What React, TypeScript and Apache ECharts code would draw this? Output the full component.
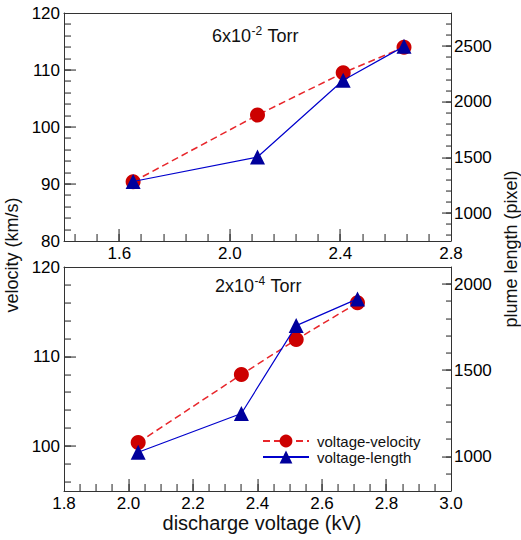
import React, { useEffect, useRef } from 'react';
import * as echarts from 'echarts';

// Upper panel: 6x10^-2 Torr
const voltageHigh = [1.65, 2.10, 2.41, 2.63];
const velocityHigh = [90.4, 102.1, 109.5, 114.0];
const lengthHigh = [1285, 1505, 2195, 2500];

// Lower panel: 2x10^-4 Torr
const voltageLow = [2.03, 2.35, 2.52, 2.71];
const velocityLow = [100.4, 108.0, 111.9, 116.0];
const lengthLow = [1025, 1250, 1760, 1915];

// Tick labels
const highVoltageLabels = [1.6, 2.0, 2.4, 2.8];
const highVelocityLabels = [80, 90, 100, 110, 120];
const highLengthLabels = [1000, 1500, 2000, 2500];
const lowVoltageLabels = [1.8, 2.0, 2.2, 2.4, 2.6, 2.8, 3.0];
const lowVelocityLabels = [100, 110, 120];
const lowLengthLabels = [1000, 1500, 2000];

// Axis extents
const HIGH_X = [1.4, 2.8];
const HIGH_L = [80, 120];
const HIGH_R = [750, 2800];
const LOW_X = [1.8, 3.0];
const LOW_L = [95, 120];
const LOW_R = [800, 2100];

const FONT = '"Liberation Sans", Arial, Helvetica, sans-serif';
const AXIS_COLOR = '#333';

function zip(xs: number[], ys: number[]): number[][] {
  return xs.map((x, i) => [x, ys[i]]);
}

// tick positions from `from` to `to` every `step`
function ticks(from: number, to: number, step: number): number[] {
  const n = Math.round((to - from) / step);
  const out: number[] = [];
  for (let i = 0; i <= n; i++) out.push(+(from + i * step).toFixed(4));
  return out;
}

type TickSet = { panel: number; edge: 'bottom' | 'left' | 'right'; values: number[]; len: number };
const tickSets: TickSet[] = [
  { panel: 0, edge: 'bottom', values: ticks(1.6, 2.4, 0.4), len: 12 },
  { panel: 0, edge: 'bottom', values: ticks(1.44, 2.72, 0.08), len: 7 },
  { panel: 0, edge: 'left', values: ticks(90, 110, 10), len: 12 },
  { panel: 0, edge: 'left', values: ticks(82, 118, 2), len: 7 },
  { panel: 0, edge: 'right', values: ticks(1000, 2500, 500), len: 9 },
  { panel: 0, edge: 'right', values: ticks(800, 2700, 100), len: 5 },
  { panel: 1, edge: 'bottom', values: ticks(2.0, 2.8, 0.2), len: 12 },
  { panel: 1, edge: 'bottom', values: ticks(1.85, 2.95, 0.05), len: 7 },
  { panel: 1, edge: 'left', values: ticks(100, 110, 10), len: 12 },
  { panel: 1, edge: 'left', values: ticks(96, 118, 2), len: 7 },
  { panel: 1, edge: 'right', values: ticks(1000, 2000, 500), len: 9 },
  { panel: 1, edge: 'right', values: ticks(900, 2000, 100), len: 5 },
];

const labelStyle = { fontFamily: FONT, fontSize: 17, color: '#000' };
const fixed1 = (v: number) => v.toFixed(1);
const plain = (v: number) => String(Math.round(v));

function measure(text: string, font: string): number {
  const ctx = document.createElement('canvas').getContext('2d');
  if (!ctx) return text.length * 9;
  ctx.font = font;
  return ctx.measureText(text).width;
}

// "<m>x10^<e> Torr" built from three text pieces
function pressureLabel(x: number, y: number, mantissa: string, exponent: string) {
  const mainFont = `18px ${FONT}`;
  const supFont = `12px ${FONT}`;
  const head = `${mantissa}x10`;
  const w1 = measure(head, mainFont);
  const w2 = measure(exponent, supFont);
  const piece = (text: string, px: number, py: number, font: string) => ({
    type: 'text',
    x: px,
    y: py,
    silent: true,
    style: { text, font, fill: '#111', align: 'left', verticalAlign: 'middle' },
  });
  return {
    type: 'group',
    silent: true,
    children: [
      piece(head, x, y, mainFont),
      piece(exponent, x + w1 + 0.5, y - 4.5, supFont),
      piece(' Torr', x + w1 + w2 + 1, y, mainFont),
    ],
  };
}

function axisName(text: string, x: number, y: number, size: number, rotation: number) {
  return {
    type: 'text',
    x,
    y,
    rotation,
    silent: true,
    style: {
      text,
      fontFamily: FONT,
      fontSize: size,
      fill: '#111',
      align: 'center',
      verticalAlign: 'middle',
    },
  };
}

export default function App() {
  const ref = useRef<HTMLDivElement>(null);

  useEffect(() => {
    if (!ref.current) return;
    const chart = echarts.init(ref.current, undefined, { renderer: 'svg' });

    const frameAxis = {
      type: 'value',
      splitLine: { show: false },
      axisTick: { show: false },
      axisLine: { show: true, onZero: false, lineStyle: { color: AXIS_COLOR, width: 1 } },
    };
    const noLabel = { axisLabel: { show: false } };

    const xAxes: any[] = [
      { ...frameAxis, gridIndex: 0, position: 'bottom', min: HIGH_X[0], max: HIGH_X[1],
        axisLabel: { ...labelStyle, margin: 4, customValues: highVoltageLabels, formatter: fixed1 } },
      { ...frameAxis, gridIndex: 1, position: 'bottom', min: LOW_X[0], max: LOW_X[1],
        axisLabel: { ...labelStyle, margin: 4, customValues: lowVoltageLabels, formatter: fixed1 } },
      // top edges of the two frames
      { ...frameAxis, ...noLabel, gridIndex: 0, position: 'top', min: HIGH_X[0], max: HIGH_X[1] },
      { ...frameAxis, ...noLabel, gridIndex: 1, position: 'top', min: LOW_X[0], max: LOW_X[1] },
    ];

    const yAxes: any[] = [
      { ...frameAxis, gridIndex: 0, position: 'left', min: HIGH_L[0], max: HIGH_L[1],
        axisLabel: { ...labelStyle, margin: 4, customValues: highVelocityLabels, formatter: plain } },
      { ...frameAxis, gridIndex: 0, position: 'right', min: HIGH_R[0], max: HIGH_R[1],
        axisLabel: { ...labelStyle, margin: 3, customValues: highLengthLabels, formatter: plain } },
      { ...frameAxis, gridIndex: 1, position: 'left', min: LOW_L[0], max: LOW_L[1],
        axisLabel: { ...labelStyle, margin: 4, customValues: lowVelocityLabels, formatter: plain } },
      { ...frameAxis, gridIndex: 1, position: 'right', min: LOW_R[0], max: LOW_R[1],
        axisLabel: { ...labelStyle, margin: 3, customValues: lowLengthLabels, formatter: plain } },
    ];

    const grids = [
      { left: 64, top: 13, width: 387, height: 228, show: false, containLabel: false, outerBoundsMode: 'none' },
      { left: 64, top: 267, width: 387, height: 224, show: false, containLabel: false, outerBoundsMode: 'none' },
    ];

    const velocityStyle = {
      symbol: 'circle',
      symbolSize: 15,
      itemStyle: { color: '#cc0000' },
      lineStyle: { color: '#e8262b', width: 1.5, type: [7, 4] },
      z: 6,
    };
    const lengthStyle = {
      symbol: 'triangle',
      symbolSize: 15,
      itemStyle: { color: '#00009c' },
      lineStyle: { color: '#0000cc', width: 1.2, type: 'solid' },
      z: 7,
    };

    const texts = [
      pressureLabel(212, 35.5, '6', '-2'),
      pressureLabel(215, 285.5, '2', '-4'),
      axisName('velocity (km/s)', 12, 255, 18, Math.PI / 2),
      axisName('plume length (pixel)', 511, 249, 18, Math.PI / 2),
      axisName('discharge voltage (kV)', 262, 523, 20, 0),
    ];

    chart.setOption({
      animation: false,
      backgroundColor: '#fff',
      grid: grids,
      xAxis: xAxes,
      yAxis: yAxes,
      legend: {
        data: ['voltage-velocity', 'voltage-length'],
        orient: 'vertical',
        left: 262,
        top: 433,
        padding: 0,
        itemWidth: 46,
        itemHeight: 16,
        itemGap: 0,
        selectedMode: false,
        textStyle: { fontFamily: FONT, fontSize: 15, lineHeight: 16, color: '#111', padding: [0, 0, 0, 3] },
      },
      series: [
        { name: 'voltage-velocity', type: 'line', xAxisIndex: 0, yAxisIndex: 0, data: zip(voltageHigh, velocityHigh), silent: true, ...velocityStyle },
        { name: 'voltage-length', type: 'line', xAxisIndex: 0, yAxisIndex: 1, data: zip(voltageHigh, lengthHigh), silent: true, ...lengthStyle },
        { name: 'voltage-velocity', type: 'line', xAxisIndex: 1, yAxisIndex: 2, data: zip(voltageLow, velocityLow), silent: true, ...velocityStyle },
        { name: 'voltage-length', type: 'line', xAxisIndex: 1, yAxisIndex: 3, data: zip(voltageLow, lengthLow), silent: true, ...lengthStyle },
      ],
      graphic: texts,
    });

    // Inward tick marks as thin filled bars, positioned through each panel's axes
    const xExt = [HIGH_X, LOW_X];
    const lExt = [HIGH_L, LOW_L];
    const rExt = [HIGH_R, LOW_R];
    const tickMarks: any[] = [];
    tickSets.forEach((t) => {
      const onRight = t.edge === 'right';
      const finder = { xAxisIndex: t.panel, yAxisIndex: t.panel * 2 + (onRight ? 1 : 0) };
      const yLow = (onRight ? rExt[t.panel] : lExt[t.panel])[0];
      const xEdge = onRight ? xExt[t.panel][1] : xExt[t.panel][0];
      t.values.forEach((v) => {
        const p = chart.convertToPixel(finder as any, t.edge === 'bottom' ? [v, yLow] : [xEdge, v]) as any;
        if (!p || !isFinite(p[0]) || !isFinite(p[1])) return;
        let shape;
        if (t.edge === 'bottom') shape = { x: Math.round(p[0]) - 0.5, y: p[1] - t.len, width: 1.1, height: t.len };
        else if (t.edge === 'left') shape = { x: p[0], y: Math.round(p[1]) - 0.5, width: t.len, height: 1.1 };
        else shape = { x: p[0] - t.len, y: Math.round(p[1]) - 0.5, width: t.len, height: 1.1 };
        tickMarks.push({ type: 'rect', silent: true, z: 100, shape, style: { fill: AXIS_COLOR, stroke: null } });
      });
    });
    chart.setOption({ graphic: [...texts, ...tickMarks] });

    return () => chart.dispose();
  }, []);

  return (
    <div
      ref={ref}
      style={{ position: 'absolute', left: 0, top: 0, width: 521, height: 540, background: '#fff' }}
    />
  );
}
